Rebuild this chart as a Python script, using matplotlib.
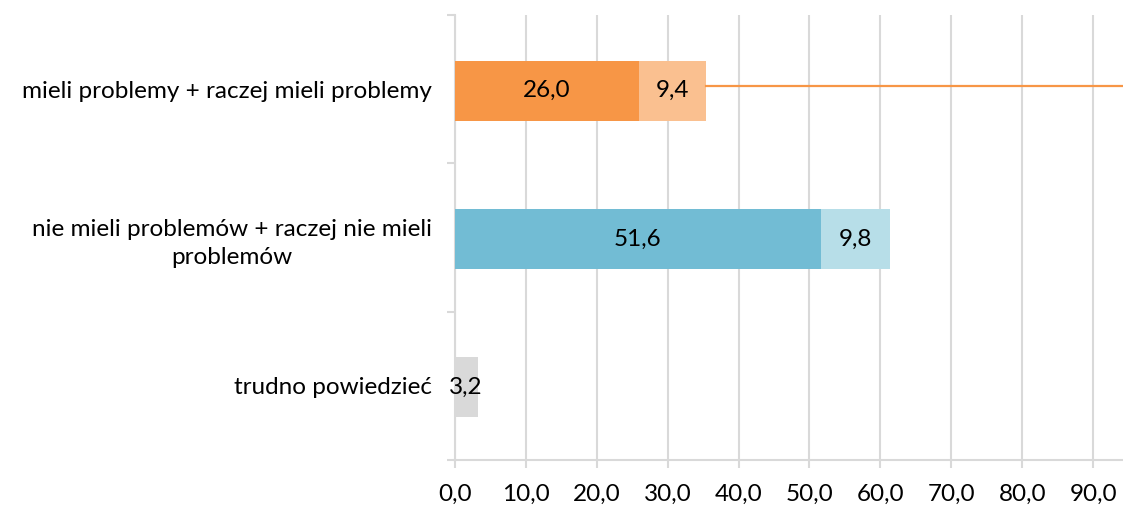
import numpy as np
import matplotlib
matplotlib.use("Agg")
import matplotlib.pyplot as plt

plt.rcParams['font.family'] = ['Lato', 'DejaVu Sans']

categories = ['mieli problemy + raczej mieli problemy',
              'nie mieli problemów + raczej nie mieli\nproblemów',
              'trudno powiedzieć']
main_vals = [26.0, 51.6, 3.2]
extra_vals = [9.4, 9.8, 0.0]
main_colors = ['#F79646', '#72BCD4', '#D9D9D9']
extra_colors = ['#FAC090', '#B7DEE8', '#D9D9D9']
xticks = np.arange(0, 100, 10)
xmax = 94.2
fs = 17.5

fig = plt.figure(figsize=(11.23, 5.11), dpi=100)
ax = fig.add_axes([0.405, 0.0998, 0.595, 0.8708])

y = np.arange(len(categories))
h = 0.405
ax.barh(y + 0.01, main_vals, height=h, color=main_colors, zorder=3)
ax.barh(y + 0.01, extra_vals, left=main_vals, height=h, color=extra_colors, zorder=3)

for i in range(len(categories)):
    ax.text(main_vals[i] / 2, y[i] + 0.01, f'{main_vals[i]:.1f}'.replace('.', ','),
            ha='center', va='center', fontsize=fs, zorder=4)
    if extra_vals[i] > 0:
        ax.text(main_vals[i] + extra_vals[i] / 2, y[i] + 0.01,
                f'{extra_vals[i]:.1f}'.replace('.', ','),
                ha='center', va='center', fontsize=fs, zorder=4)

# stray orange line from first bar to right edge
end0 = main_vals[0] + extra_vals[0]
ax.plot([end0, xmax], [y[0] - 0.02, y[0] - 0.02], color='#F79646', lw=1.6,
        zorder=4, clip_on=False)

ax.set_xlim(0, xmax)
ax.set_ylim(2.5, -0.5)
ax.set_xticks(xticks)
ax.set_xticklabels([f'{v:.1f}'.replace('.', ',') for v in xticks], fontsize=fs)
ax.set_yticks(y)
ax.set_yticklabels(categories, fontsize=fs, ma='center', linespacing=1.45)
ax.set_yticks([-0.5, 0.5, 1.5, 2.5], minor=True)

ax.grid(axis='x', color='#D9D9D9', lw=1.5, zorder=0)
for s in ['top', 'right']:
    ax.spines[s].set_visible(False)
for s in ['left', 'bottom']:
    ax.spines[s].set_color('#D9D9D9')
    ax.spines[s].set_linewidth(1.5)

ax.tick_params(axis='y', which='major', length=0, pad=16.5)
ax.tick_params(axis='y', which='minor', length=6, width=1.5, color='#D9D9D9')
ax.tick_params(axis='x', length=6, width=1.5, color='#D9D9D9', pad=11)

fig.savefig('out.png', dpi=100)
